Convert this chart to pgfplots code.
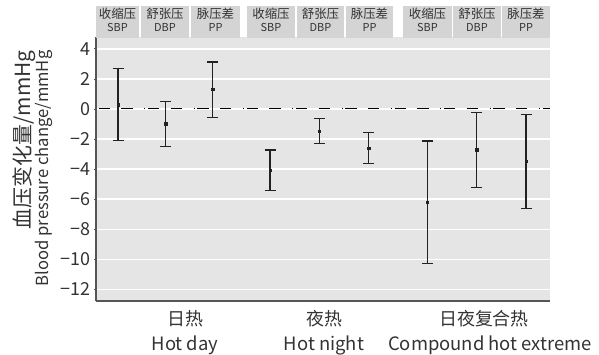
\documentclass[border=0pt]{standalone}
\usepackage{fontspec}
\setmainfont{Noto Sans CJK SC}
\usepackage{pgfplots}
\pgfplotsset{compat=1.18}
\definecolor{panel}{HTML}{E5E5E5}
\definecolor{strip}{HTML}{D4D4D4}
\definecolor{txt}{HTML}{333333}
\definecolor{axisline}{HTML}{555555}
\definecolor{bar}{HTML}{222222}
\begin{document}
\begin{tikzpicture}[x=1bp,y=1bp]
\useasboundingbox (0,0) rectangle (599,354);
\begin{axis}[
  at={(96bp,53.3bp)}, anchor=south west,
  scale only axis, width=454bp, height=263.4bp,
  xmin=96, xmax=550, ymin=-12.76, ymax=4.77,
  axis background/.style={fill=panel},
  axis lines*=left,
  axis line style={draw=axisline, line width=1.6bp},
  xtick=\empty,
  ytick={-12,-10,-8,-6,-4,-2,0,2,4},
  yticklabels={−12,−10,−8,−6,−4,−2,0,2,4},
  yticklabel style={font=\fontsize{18}{18}\selectfont, text=txt},
  major tick length=2bp, tick align=outside,
  tick style={axisline, line width=0.8bp},
  ymajorgrids, grid style={white, line width=1.3bp},
]
\addplot[black, line width=1bp, dash pattern=on 11.3bp off 11.3bp on 11.3bp off 11.7bp on 0.7bp off 3bp, dash phase=46.5bp] coordinates {(96,0) (550,0)};
\addplot[bar, only marks, mark=square*, mark size=1.1bp,
  error bars/.cd, y dir=both, y explicit,
  error mark=|,
  error bar style={bar, line width=1.2bp},
  error mark options={bar, line width=1.2bp, mark size=5.5bp}]
coordinates {
  (118,0.29) += (0,2.42) -= (0,2.40)
  (165.7,-0.98) += (0,1.49) -= (0,1.51)
  (212.7,1.29) += (0,1.84) -= (0,1.87)
  (270,-4.09) += (0,1.36) -= (0,1.36)
  (319.3,-1.49) += (0,0.84) -= (0,0.80)
  (368.7,-2.62) += (0,1.04) -= (0,1.03)
  (427.3,-6.20) += (0,4.07) -= (0,4.07)
  (476.7,-2.71) += (0,2.49) -= (0,2.51)
  (526,-3.49) += (0,3.13) -= (0,3.13)
};
\end{axis}
% header strips
\foreach \a/\b/\cn/\en in {96/139/收缩压/SBP, 141/189/舒张压/DBP, 191/240/脉压差/PP,
  247/295/收缩压/SBP, 297/344/舒张压/DBP, 346/393/脉压差/PP,
  403/452/收缩压/SBP, 453/501/舒张压/DBP, 502/550/脉压差/PP}{
  \fill[strip] (\a,316.3) rectangle (\b,348);
  \node[text=txt, font=\fontsize{12.5}{12.5}\selectfont, anchor=base] at ({(\a+\b)/2},335.5) {\cn};
  \node[text=txt, font=\fontsize{11}{11}\selectfont, anchor=base] at ({(\a+\b)/2},322.5) {\en};
}
% y label
\node[text=txt, rotate=90, anchor=base east, font=\fontsize{21}{21}\selectfont] at (30.5,307) {血压变化量/mmHg};
\node[text=txt, rotate=90, anchor=base east, font=\fontsize{16.7}{16.7}\selectfont] at (48,307) {Blood pressure change/mmHg};
% x labels
\node[text=txt, anchor=base, font=\fontsize{18}{18}\selectfont] at (185,29) {日热};
\node[text=txt, anchor=base, font=\fontsize{18.5}{18.5}\selectfont] at (185,4) {Hot day};
\node[text=txt, anchor=base, font=\fontsize{18}{18}\selectfont] at (324,29) {夜热};
\node[text=txt, anchor=base, font=\fontsize{18.5}{18.5}\selectfont] at (324,4) {Hot night};
\node[text=txt, anchor=base, font=\fontsize{18}{18}\selectfont] at (484,29) {日夜复合热};
\node[text=txt, anchor=base, font=\fontsize{18.5}{18.5}\selectfont] at (490,4) {Compound hot extreme};
\end{tikzpicture}
\end{document}
